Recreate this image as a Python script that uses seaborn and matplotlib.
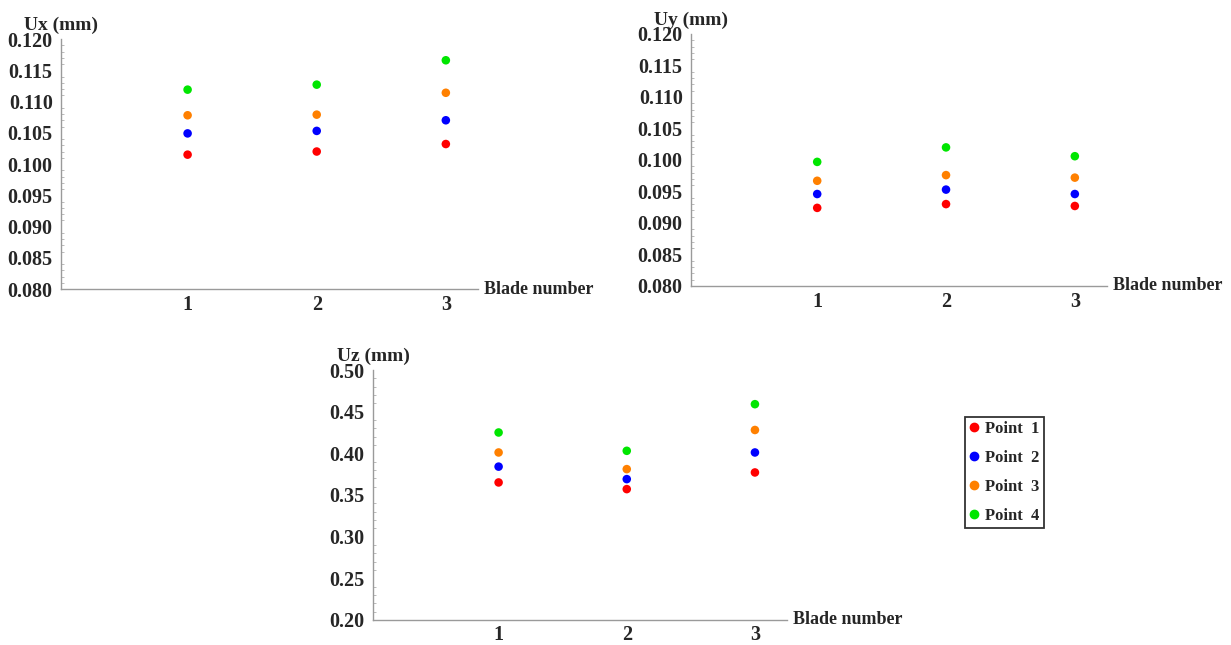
import numpy as np
import pandas as pd
import matplotlib
matplotlib.use("Agg")
import matplotlib.pyplot as plt
import seaborn as sns
from matplotlib.ticker import AutoMinorLocator, FormatStrFormatter

sns.set_theme(style="white")
plt.rcParams["font.family"] = ["Liberation Serif", "DejaVu Serif"]
plt.rcParams["font.weight"] = "bold"

# ===== data =====
blades = [1, 2, 3]
points = ["Point  1", "Point  2", "Point  3", "Point  4"]

ux_p1 = [0.1015, 0.1020, 0.1032]
ux_p2 = [0.1049, 0.1053, 0.1070]
ux_p3 = [0.1078, 0.1079, 0.1114]
ux_p4 = [0.1119, 0.1127, 0.1166]

uy_p1 = [0.0924, 0.0930, 0.0927]
uy_p2 = [0.0946, 0.0953, 0.0946]
uy_p3 = [0.0967, 0.0976, 0.0972]
uy_p4 = [0.0997, 0.1020, 0.1006]

uz_p1 = [0.365, 0.357, 0.377]
uz_p2 = [0.384, 0.369, 0.401]
uz_p3 = [0.401, 0.381, 0.428]
uz_p4 = [0.425, 0.403, 0.459]

colors = ["#ff0000", "#0000ff", "#ff8000", "#00e600"]


def long_table(series):
    rows = []
    for name, vals in zip(points, series):
        for b, v in zip(blades, vals):
            rows.append({"blade": b, "point": name, "value": v})
    return pd.DataFrame(rows)


ux = long_table([ux_p1, ux_p2, ux_p3, ux_p4])
uy = long_table([uy_p1, uy_p2, uy_p3, uy_p4])
uz = long_table([uz_p1, uz_p2, uz_p3, uz_p4])

fig = plt.figure(figsize=(12.31, 6.45), dpi=100)

ax1 = fig.add_axes([0.0496, 0.5519, 0.3388, 0.3876])
ax2 = fig.add_axes([0.5613, 0.5566, 0.3380, 0.3907])
ax3 = fig.add_axes([0.3030, 0.0390, 0.3363, 0.3873])

panels = [
    (ax1, ux, "Ux (mm)", (0.080, 0.120), 0.005, "%.3f"),
    (ax2, uy, "Uy (mm)", (0.080, 0.120), 0.005, "%.3f"),
    (ax3, uz, "Uz (mm)", (0.20, 0.50), 0.05, "%.2f"),
]

for ax, df, label, ylim, step, fmt in panels:
    sns.scatterplot(data=df, x="blade", y="value", hue="point",
                    palette=colors, s=38, linewidth=0, ax=ax, legend=False)
    ax.set_xlim(0.02, 3.25)
    ax.set_ylim(*ylim)
    ax.set_xticks(blades)
    ax.set_yticks(np.arange(ylim[0], ylim[1] + step / 2, step))
    ax.yaxis.set_major_formatter(FormatStrFormatter(fmt))
    ax.yaxis.set_minor_locator(AutoMinorLocator(5))
    ax.set_xlabel("")
    ax.set_ylabel("")
    for s in ["top", "right"]:
        ax.spines[s].set_visible(False)
    for s in ["left", "bottom"]:
        ax.spines[s].set_color("#9a9a9a")
        ax.spines[s].set_linewidth(1.0)
    ax.tick_params(axis="both", which="major", direction="in", length=4,
                   width=0.8, color="#9a9a9a", labelsize=14.5)
    ax.tick_params(axis="y", which="minor", direction="in", length=2,
                   width=0.6, color="#b0b0b0", left=True)
    ax.tick_params(axis="x", pad=4)
    ax.tick_params(axis="y", pad=6)
    for t in ax.get_xticklabels() + ax.get_yticklabels():
        t.set_fontweight("bold")
    # axis titles sit above the y axis and at the end of the x axis
    ax.text(0.0, 1.02, label, transform=ax.transAxes, ha="center", va="bottom",
            fontsize=14, fontweight="bold")
    ax.text(1.015, 0.0, "Blade number", transform=ax.transAxes, ha="left",
            va="center", fontsize=13, fontweight="bold")

handles = [plt.Line2D([], [], marker="o", linestyle="", color=c, markersize=6)
           for c in colors]
leg = fig.legend(handles, points, loc="upper left",
                 bbox_to_anchor=(0.784, 0.3535), frameon=True, fancybox=False,
                 prop={"weight": "bold", "size": 12}, handletextpad=0.35,
                 handlelength=0.6, labelspacing=0.78, borderpad=0.25,
                 borderaxespad=0)
leg.get_frame().set_edgecolor("black")
leg.get_frame().set_linewidth(1.3)

fig.savefig("out.png", dpi=100)
